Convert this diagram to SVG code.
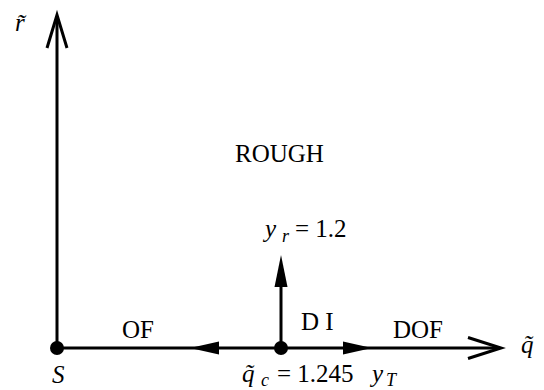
<svg xmlns="http://www.w3.org/2000/svg" width="544" height="390" viewBox="0 0 544 390">
<rect width="544" height="390" fill="#fff"/>
<g id="connectors" stroke="#000" stroke-width="3" fill="none">
<line x1="57" y1="348" x2="57" y2="16"/>
<polyline points="47,48 57,15 67,48" stroke-miterlimit="10"/>
<line x1="57" y1="348" x2="500" y2="348"/>
<polyline points="468,337.5 501,348 468,358.5" stroke-miterlimit="10"/>
<line x1="281" y1="348" x2="281" y2="270"/>
<polygon points="281,255 274.5,287 287.5,287" fill="#000" stroke="none"/>
<polygon points="190,348 219,341.5 219,354.5" fill="#000" stroke="none"/>
<polygon points="372,348 343,341.5 343,354.5" fill="#000" stroke="none"/>
</g>
<circle id="node-S" cx="57" cy="348" r="7" fill="#000"/>
<circle id="node-qc" cx="281" cy="348" r="7" fill="#000"/>
<text x="52" y="383" font-family="Liberation Serif, serif" font-size="25" font-style="italic">S</text>
<text x="242" y="382" font-family="Liberation Serif, serif" font-size="25" font-style="italic">q̃</text>
<text x="261" y="386" font-family="Liberation Serif, serif" font-size="18" font-style="italic">c</text>
<text x="277" y="382" font-family="Liberation Serif, serif" font-size="25">= 1.245</text>
<text x="15" y="31" font-family="Liberation Serif, serif" font-size="25" font-style="italic">r̃</text>
<text x="521" y="353" font-family="Liberation Serif, serif" font-size="25" font-style="italic">q̃</text>
<text x="235" y="162" font-family="Liberation Serif, serif" font-size="25">ROUGH</text>
<text x="265" y="237" font-family="Liberation Serif, serif" font-size="25" font-style="italic">y</text>
<text x="282" y="242" font-family="Liberation Serif, serif" font-size="18" font-style="italic">r</text>
<text x="295" y="237" font-family="Liberation Serif, serif" font-size="25">= 1.2</text>
<text x="301" y="330" font-family="Liberation Serif, serif" font-size="25">D I</text>
<text x="122" y="338" font-family="Liberation Serif, serif" font-size="25">OF</text>
<text x="393" y="338" font-family="Liberation Serif, serif" font-size="25">DOF</text>
<text x="372" y="382" font-family="Liberation Serif, serif" font-size="25" font-style="italic">y</text>
<text x="386" y="386" font-family="Liberation Serif, serif" font-size="18" font-style="italic">T</text>
</svg>
